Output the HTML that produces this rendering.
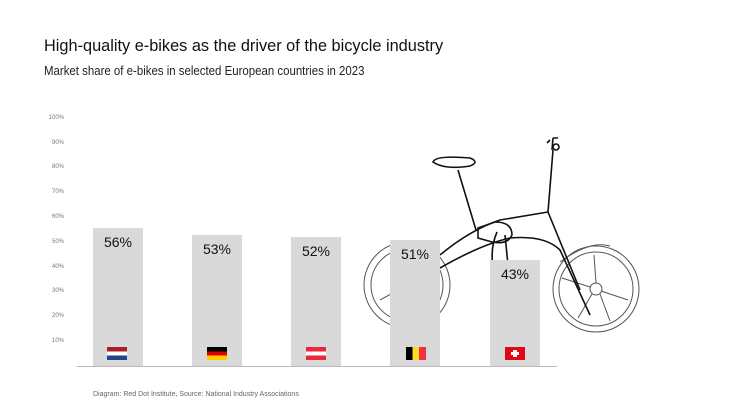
<!DOCTYPE html><html><head><style>
body{margin:0;width:746px;height:420px;background:#fff;font-family:"Liberation Sans",sans-serif;position:relative;overflow:hidden}
.t{position:absolute;left:44px;top:36px;font-size:17px;color:#111;transform:scaleX(0.96);transform-origin:0 0;white-space:nowrap}
.s{position:absolute;left:44px;top:63px;font-size:13px;color:#222;transform:scaleX(0.88);transform-origin:0 0;white-space:nowrap}
.y{position:absolute;left:38px;width:26px;text-align:right;font-size:6px;color:#777}
.b{position:absolute;width:50px;background:#d9d9d9}
.v{position:absolute;width:50px;text-align:center;font-size:14px;color:#111}
.f{position:absolute;width:20px;height:13px}
.src{position:absolute;left:93px;top:391px;font-size:7px;color:#666}
</style></head><body>
<div class="t">High-quality e-bikes as the driver of the bicycle industry</div>
<div class="s">Market share of e-bikes in selected European countries in 2023</div>
<svg width="746" height="420" style="position:absolute;left:0;top:0" fill="none" stroke="#111">
<g stroke-width="1">
<circle cx="407" cy="285" r="43" stroke="#555"/><circle cx="407" cy="285" r="36" stroke="#555"/>
<circle cx="596" cy="289" r="43" stroke="#555"/><circle cx="596" cy="289" r="37" stroke="#555"/>
<circle cx="596" cy="289" r="6" stroke="#555"/>
<path d="M596 283 L594 255 M601 291 L628 300 M592 294 L578 318 M590 287 L562 278 M600 294 L610 321" stroke="#555"/>
<path d="M407 279 L405 252 M412 287 L438 296 M402 288 L380 300" stroke="#555"/>
<path d="M560 262 Q590 240 610 246" stroke="#555"/>
</g>
<g stroke-width="1.6">
<path d="M440 255 Q470 230 500 220 Q530 215 548 212 L553 150"/>
<path d="M440 268 Q480 245 510 238 Q545 235 560 250 L590 315"/>
<path d="M548 212 L580 290"/>
<path d="M505 235 L508 265 M497 232 Q490 248 493 268"/>
<path d="M478 228 L495 222 Q512 222 512 235 Q508 245 492 242 L478 238 Z"/>
<path d="M476 230 L458 170"/>
<path d="M433 162 Q435 155 470 158 Q480 162 470 166 Q445 170 433 162Z"/>
<path d="M552 150 L553 138 M547 143 L550 140 M553 138 L558 138"/>
<circle cx="556" cy="147" r="3"/>
</g>
</svg>
<div class="y" style="top:115px">100%</div><div class="y" style="top:140px">90%</div><div class="y" style="top:164px">80%</div><div class="y" style="top:189px">70%</div><div class="y" style="top:214px">60%</div><div class="y" style="top:239px">50%</div><div class="y" style="top:264px">40%</div><div class="y" style="top:288px">30%</div><div class="y" style="top:313px">20%</div><div class="y" style="top:338px">10%</div>
<div class="b" style="left:93px;top:228px;height:138px"></div><div class="v" style="left:93px;top:234px">56%</div>
<div class="b" style="left:192px;top:235px;height:131px"></div><div class="v" style="left:192px;top:241px">53%</div>
<div class="b" style="left:291px;top:237px;height:129px"></div><div class="v" style="left:291px;top:243px">52%</div>
<div class="b" style="left:390px;top:240px;height:126px"></div><div class="v" style="left:390px;top:246px">51%</div>
<div class="b" style="left:490px;top:260px;height:106px"></div><div class="v" style="left:490px;top:266px">43%</div>
<div style="position:absolute;left:77px;top:366px;width:480px;height:1px;background:#bbb"></div>
<div class="f" style="left:107px;top:347px;background:linear-gradient(#ae1c28 33%,#fff 33%,#fff 66%,#21468b 66%)"></div>
<div class="f" style="left:207px;top:347px;background:linear-gradient(#000 33%,#dd0000 33%,#dd0000 66%,#ffce00 66%)"></div>
<div class="f" style="left:306px;top:347px;background:linear-gradient(#ed2939 33%,#fff 33%,#fff 66%,#ed2939 66%)"></div>
<div class="f" style="left:406px;top:347px;background:linear-gradient(90deg,#000 33%,#fdda24 33%,#fdda24 66%,#ef3340 66%)"></div>
<div class="f" style="left:505px;top:347px;background:#e30613"><div style="position:absolute;left:8px;top:3px;width:4px;height:7px;background:#fff"></div><div style="position:absolute;left:6px;top:5px;width:8px;height:3px;background:#fff"></div></div>
<div class="src">Diagram: Red Dot Institute, Source: National Industry Associations</div>
</body></html>
